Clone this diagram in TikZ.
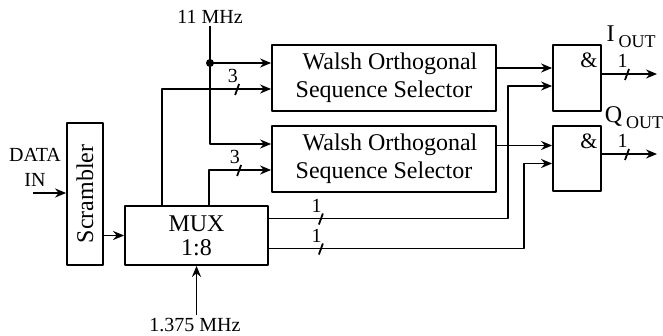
\documentclass[tikz,border=0pt]{standalone}
\usepackage{fontspec}
\setmainfont{Liberation Serif}
\usetikzlibrary{calc,arrows.meta}

\begin{document}
\begin{tikzpicture}[x=0.5pt, y=-0.5pt, line width=0.9pt,
            font=\fontsize{12}{14}\selectfont,
            line join=round, >={Stealth[length=5.5pt,width=4.5pt,inset=1.8pt]}]
            \tikzset{blk/.style={draw, inner sep=0pt, align=center},
                     lbl/.style={font=\fontsize{10}{12.5}\selectfont, inner sep=1pt, align=center},
                     buslbl/.style={font=\fontsize{10}{10}\selectfont, inner sep=0.2pt, anchor=south east},
                     amp/.style={font=\fontsize{11}{12}\selectfont, inner sep=0pt}}
            \useasboundingbox (0,0) rectangle (663,336);
            % blocks
            \node[blk, rotate=90, minimum width=71pt, minimum height=18pt] (scr) at (85,194) {Scrambler};
            \node[blk, minimum width=71.5pt, minimum height=29.5pt] (mux) at (196.5,235.5) {MUX\\[-2pt]1:8};
            \node[blk, minimum width=112pt, minimum height=33pt] (wos1) at (384,78) {\hspace*{6pt}Walsh Orthogonal\\Sequence Selector};
            \node[blk, minimum width=112pt, minimum height=33pt] (wos2) at (384,159) {\hspace*{6pt}Walsh Orthogonal\\Sequence Selector};
            \node[blk, minimum width=24pt, minimum height=33pt] (and1) at (577,78) {};
            \node[blk, minimum width=24pt, minimum height=32.5pt] (and2) at (577,158.5) {};
            \node[amp] (amp1) at ($(and1.north east)+(-13,16)$) {\&};
            \node[amp] (amp2) at ($(and2.north east)+(-13,16)$) {\&};
            % labels
            \node[lbl] (din) at (35,167.5) {DATA\\IN};
            \node[lbl] (fclk) at (210,17) {11 MHz};
            \node[lbl] (clk) at (195,325) {1.375 MHz};
            \node[inner sep=0pt] (ilbl) at (631,37) {I\,\raisebox{-3pt}{\fontsize{9}{10}\selectfont OUT}};
            \node[inner sep=0pt] (qlbl) at (634,118) {Q\,\raisebox{-3pt}{\fontsize{9}{10}\selectfont OUT}};
            % ports
            \coordinate (dinp) at (33,193);
            \coordinate (w1a) at ($(wos1.west)+(0,-15)$);
            \coordinate (w1b) at ($(wos1.west)+(0,11)$);
            \coordinate (w2a) at ($(wos2.west)+(0,-15)$);
            \coordinate (w2b) at ($(wos2.west)+(0,11)$);
            \coordinate (m1) at ($(mux.north west)+(38,0)$);
            \coordinate (m2) at ($(mux.north west)+(85,0)$);
            \coordinate (m3) at ($(mux.east)+(0,-17)$);
            \coordinate (m4) at ($(mux.east)+(0,13)$);
            \coordinate (g1a) at ($(and1.west)+(0,-10)$);
            \coordinate (g1b) at ($(and1.west)+(0,8)$);
            \coordinate (g2a) at ($(and2.west)+(0,-13)$);
            \coordinate (g2b) at ($(and2.west)+(0,5)$);
            \coordinate (io) at (657,74);
            \coordinate (qo) at (657,154);
            % connections
            \draw[->] (dinp) -- (dinp -| scr.north);
            \draw[->] (scr.south |- mux.west) -- (mux.west);
            \draw[->] (clk.north -| mux.south) -- (mux.south);
            \draw[->] (fclk.south) |- (w2a);
            \draw[->] (fclk.south |- w1a) -- (w1a);
            \fill (fclk.south |- w1a) circle (4);
            \draw[->] (m1) |- (w1b);
            \draw[->] (m2) |- (w2b);
            \draw[->] (wos1.east |- g1a) -- (g1a);
            \draw[->] (wos2.east |- g2a) -- (g2a);
            \draw[->] (m3) -- ++(239,0) |- (g1b);
            \draw[->] (m4) -- ++(255,0) |- (g2b);
            \draw[->] (and1.east |- io) -- (io);
            \draw[->] (and2.east |- qo) -- (qo);
            % bus marks
            \draw ($(w1b)+(-36,6)$) -- ++(4,-11) node[buslbl] {3};
            \draw ($(w2b)+(-34,6)$) -- ++(4,-11) node[buslbl] {3};
            \draw ($(m3)+(50,6)$) -- ++(4,-11) node[buslbl] {1};
            \draw ($(m4)+(50,6)$) -- ++(4,-11) node[buslbl] {1};
            \draw ($(io)+(-32,6)$) -- ++(4,-11) node[buslbl] {1};
            \draw ($(qo)+(-32,6)$) -- ++(4,-11) node[buslbl] {1};
\end{tikzpicture}
\end{document}
